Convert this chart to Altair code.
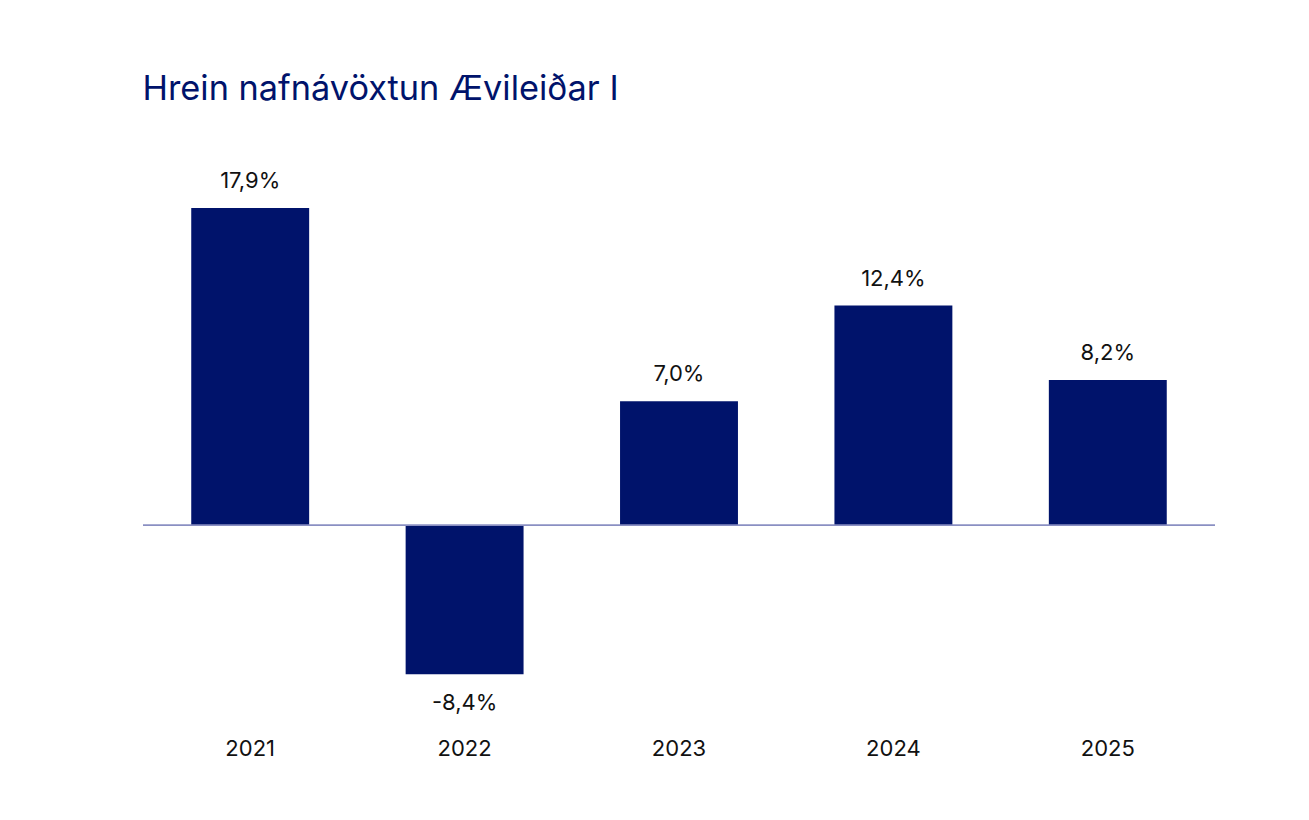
import altair as alt
import pandas as pd

years = ["2021", "2022", "2023", "2024", "2025"]
values = [17.9, -8.4, 7.0, 12.4, 8.2]
labels = ["17,9%", "-8,4%", "7,0%", "12,4%", "8,2%"]

df = pd.DataFrame({"year": years, "value": values, "label": labels})

FONT = "Inter"
NAVY = "#00136b"

x = alt.X("year:N", sort=years, title=None,
          scale=alt.Scale(paddingInner=0.45, paddingOuter=0.225),
          axis=alt.Axis(labelAngle=0, domain=False, ticks=False, grid=False,
                        labelFont=FONT, labelFontSize=22, labelColor="#111111",
                        labelPadding=0))
yscale = alt.Scale(domain=[-12, 21], nice=False, zero=True)
y = alt.Y("value:Q", title=None, scale=yscale, axis=None)

base = alt.Chart(df)

bars = base.mark_bar(color=NAVY).encode(x=x, y=y)

rule = base.mark_rule(color="#8a8fc2", strokeWidth=1).encode(
    y=alt.Y("zero:Q", scale=yscale, axis=None)
).transform_calculate(zero="0")

text = base.transform_calculate(
    lpos="datum.value >= 0 ? datum.value + 1.52 : datum.value - 1.64"
).mark_text(
    font=FONT, fontSize=22, color="#111111", baseline="middle"
).encode(x=x, y=alt.Y("lpos:Q", scale=yscale, axis=None), text="label:N")

chart = alt.layer(bars, rule, text).properties(
    width=1072,
    height=585,
    title=alt.TitleParams("Hrein nafnávöxtun Ævileiðar I", anchor="start",
                          font=FONT, fontSize=34.3, fontWeight="normal", color=NAVY, offset=46),
    padding={"left": 134, "top": 64, "right": 5, "bottom": 5},
).configure_view(stroke=None)

chart.save("out.html", embed_options={"renderer": "svg", "actions": False})
